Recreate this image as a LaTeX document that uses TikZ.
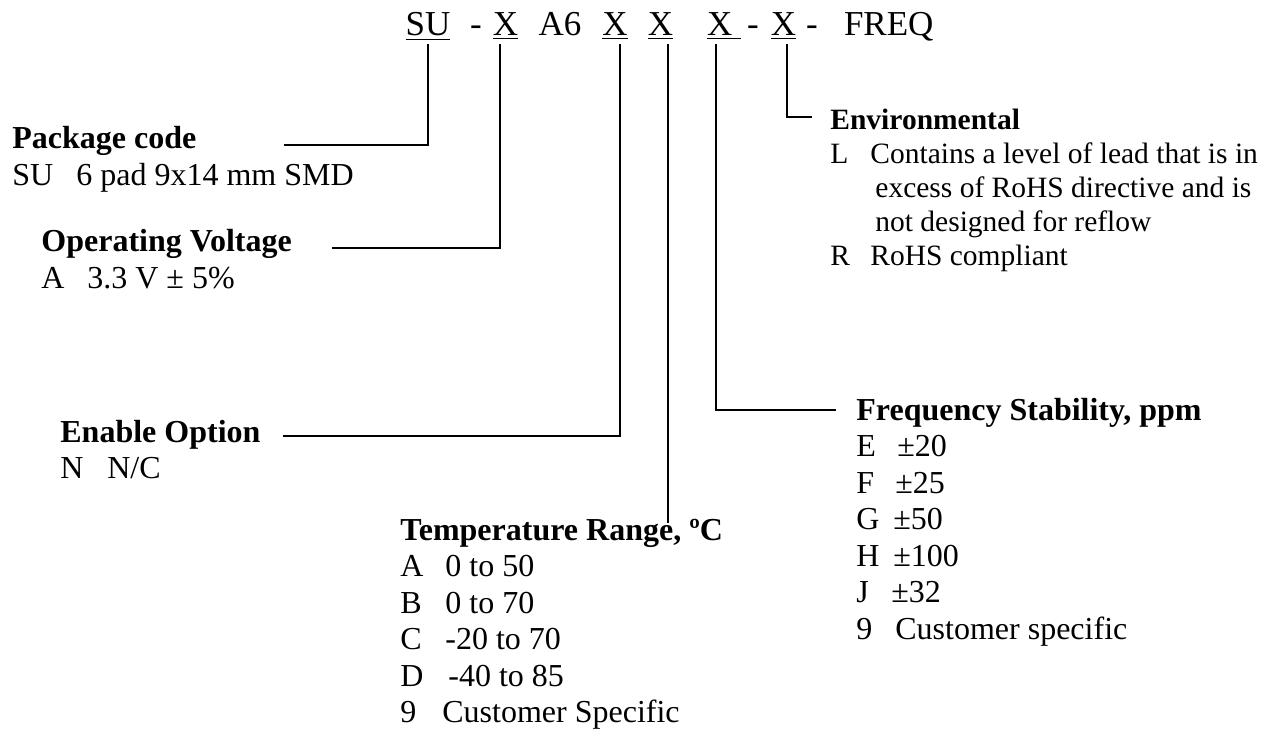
\documentclass[tikz,border=0pt]{standalone}
\usepackage{fontspec}
\setmainfont{Liberation Serif}
\newcommand\lblfont{\fontsize{16pt}{18.25pt}\selectfont}
\newcommand\envfont{\fontsize{14.75pt}{17pt}\selectfont}
\newcommand\codefont{\fontsize{17.5pt}{21pt}\selectfont}

\begin{document}
\begin{tikzpicture}[x=0.5pt, y=-0.5pt,
        code/.style={anchor=base, inner sep=0pt, outer sep=2pt, font=\codefont},
        block/.style={anchor=base west, inner sep=0pt, font=\lblfont},
        lead/.style={line width=0.9pt}
    ]
    \useasboundingbox (0,0) rectangle (1273,732);

    % part number
    \node[code] (su) at (428,36) {\underline{SU}};
    \node[code] (d1) at (476,36) {-};
    \node[code] (x1) at (505.5,36) {\underline{X}};
    \node[code] (a6) at (560,36) {A6};
    \node[code] (x2) at (615,36) {\underline{X}};
    \node[code] (x3) at (660.5,36) {\underline{X}};
    \node[code, anchor=base west] (x4) at (703,36) {\underline{X\ }};
    \node[code] (d2) at (753,36) {-};
    \node[code] (x5) at (783.5,36) {\underline{X}};
    \node[code] (d3) at (812,36) {-};
    \node[code, anchor=base west] (freq) at (840,36) {FREQ};

    % option blocks
    \node[block] (pkg) at (12,149) {\begin{tabular}[t]{@{}p{32pt}@{}l@{}}
        \multicolumn{2}{@{}l@{}}{\bfseries Package code}\\
        SU & 6 pad 9x14 mm SMD
    \end{tabular}};
    \node[block] (volt) at (41,252) {\begin{tabular}[t]{@{}p{23pt}@{}l@{}}
        \multicolumn{2}{@{}l@{}}{\bfseries Operating Voltage}\\
        A & 3.3 V ± 5\%
    \end{tabular}};
    \node[block] (enable) at (60,442) {\begin{tabular}[t]{@{}p{23.5pt}@{}l@{}}
        \multicolumn{2}{@{}l@{}}{\bfseries Enable Option}\\
        N & N/C
    \end{tabular}};
    \node[block] (temp) at (400,540) {\begin{tabular}[t]{@{}p{22.5pt}@{}l@{}}
        \multicolumn{2}{@{}l@{}}{\bfseries Temperature Range, ºC}\\
        A & 0 to 50\\
        B & 0 to 70\\
        C & -20 to 70\\
        D & \hspace{1.5pt}-40 to 85\\
        9 & \hspace{-1.5pt}Customer Specific
    \end{tabular}};
    \node[block] (stab) at (856,420) {\begin{tabular}[t]{@{}p{19.5pt}@{}l@{}}
        \multicolumn{2}{@{}l@{}}{\bfseries Frequency Stability, ppm}\\
        E & \hspace{1pt}±20\\
        F & ±25\\
        G & \hspace{-1pt}±50\\
        H & \hspace{-1pt}±100\\
        J & \hspace{-2pt}±32\\
        9 & Customer specific
    \end{tabular}};
    \node[block, font=\envfont] (env) at (830,130) {\begin{tabular}[t]{@{}p{20pt}@{}l@{}}
        \multicolumn{2}{@{}l@{}}{\bfseries Environmental}\\
        L & Contains a level of lead that is in\\
          & \hspace{2.5pt}excess of RoHS directive and is\\
          & \hspace{2.5pt}not designed for reflow\\
        R & RoHS compliant
    \end{tabular}};

    % free ends of the leaders
    \coordinate (pkgEnd) at (284,145);
    \coordinate (voltEnd) at (332,248);
    \coordinate (enableEnd) at (283,436);
    \coordinate (tempEnd) at (668,523);
    \coordinate (stabEnd) at (836,410);
    \coordinate (envEnd) at (812,117);

    \draw[lead] (su.south) |- (pkgEnd);
    \draw[lead] ([xshift=-2.75pt]x1.south) |- (voltEnd);
    \draw[lead] ([xshift=2.5pt]x2.south) |- (enableEnd);
    \draw[lead] ([xshift=3.75pt]x3.south) -- (tempEnd);
    \draw[lead] ([xshift=6.5pt]x4.south west) |- (stabEnd);
    \draw[lead] ([xshift=1.75pt]x5.south) |- (envEnd);

\end{tikzpicture}
\end{document}
